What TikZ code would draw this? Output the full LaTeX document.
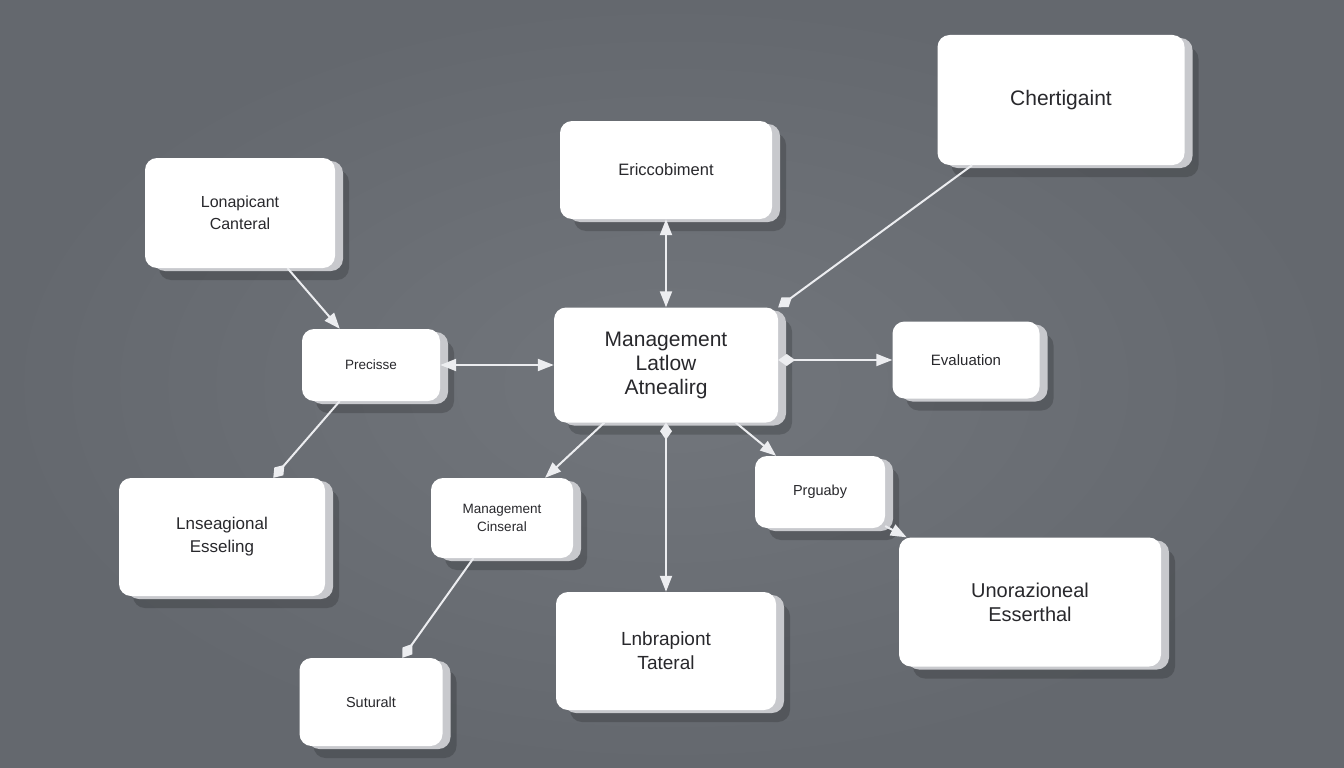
\documentclass[tikz,border=0pt]{standalone}
\usepackage{fontspec}
\setmainfont{Liberation Sans}
\usetikzlibrary{arrows.meta,shadows,positioning}
\definecolor{wallgray}{RGB}{100,104,110}
\definecolor{walllight}{RGB}{114,118,124}
\definecolor{inkgray}{RGB}{40,40,44}
\definecolor{sidegray}{RGB}{200,201,205}
\definecolor{wiregray}{RGB}{236,237,240}
\tikzset{
  card/.style  = {shape=rectangle, rounded corners=12pt,
                  fill=white, align=center, text=inkgray, inner sep=4pt,
                  drop shadow={shadow xshift=14pt, shadow yshift=-12pt,
                               opacity=.18, fill=black},
                  copy shadow={shadow xshift=8pt, shadow yshift=-3pt,
                               fill=sidegray, draw=none}},
  hub/.style   = {card, font=\fontsize{21}{24}\selectfont},
  leaf/.style 2 args = {card, font=\fontsize{#1}{#2}\selectfont},
  link/.style  = {draw=wiregray, line width=2pt},
  tri/.tip     = {Triangle[length=16pt,width=12pt,fill=wiregray]},
  dmd/.tip     = {Diamond[length=17pt,width=12pt,fill=wiregray]}
}
\begin{document}
\begin{tikzpicture}[x=1pt, y=-1pt]
\useasboundingbox (0,0) rectangle (1344,768);
\shade[inner color=walllight, outer color=wallgray] (0,0) rectangle (1344,768);

\node [hub, minimum width=224pt, minimum height=115pt] (mgmt) at (666,365)
  {Management\\Latlow\\Atnealirg};
\node [leaf={16.5}{21}, minimum width=212pt, minimum height=98pt] (enrich) at (666,170) {Ericcobiment};
\node [leaf={21}{26}, minimum width=247pt, minimum height=130pt] (chert) at (1061,100) {Chertigaint};
\node [leaf={16}{22}, minimum width=190pt, minimum height=110pt] (lona) at (240,213) {Lonapicant\\Canteral};
\node [leaf={13.5}{17}, minimum width=138pt, minimum height=72pt] (prec) at (371,365) {Precisse};
\node [leaf={15}{19}, minimum width=147pt, minimum height=77pt] (eval) at (966,360) {Evaluation};
\node [leaf={17}{23}, minimum width=206pt, minimum height=118pt] (lnse) at (222,537) {Lnseagional\\Esseling};
\node [leaf={13.5}{18}, minimum width=142pt, minimum height=80pt] (mcins) at (502,518) {Management\\Cinseral};
\node [leaf={14.5}{18}, minimum width=130pt, minimum height=72pt] (prg) at (820,492) {Prguaby};
\node [leaf={20}{24}, minimum width=262pt, minimum height=129pt] (unor) at (1030,602) {Unorazioneal\\Esserthal};
\node [leaf={19}{24}, minimum width=220pt, minimum height=118pt] (lnbr) at (666,651) {Lnbrapiont\\Tateral};
\node [leaf={14.5}{18}, minimum width=143pt, minimum height=88pt] (sutu) at (371,702) {Suturalt};

\draw [link, -tri] (lona) -- (prec);
\draw [link, tri-tri] (prec) -- (mgmt);
\draw [link, -dmd] (prec) -- (lnse);
\draw [link, tri-tri] (enrich) -- (mgmt);
\draw [link, dmd-] (mgmt.north east) -- (chert);
\draw [link, dmd-tri] (mgmt.east |- eval.west) -- (eval.west);
\draw [link, -tri] (mgmt) -- (mcins);
\draw [link, dmd-tri] (mgmt) -- (lnbr);
\draw [link, -tri] (mgmt) -- (prg);
\draw [link, -tri] (prg) -- (unor);
\draw [link, -dmd] (mcins) -- (sutu);
\end{tikzpicture}
\end{document}
